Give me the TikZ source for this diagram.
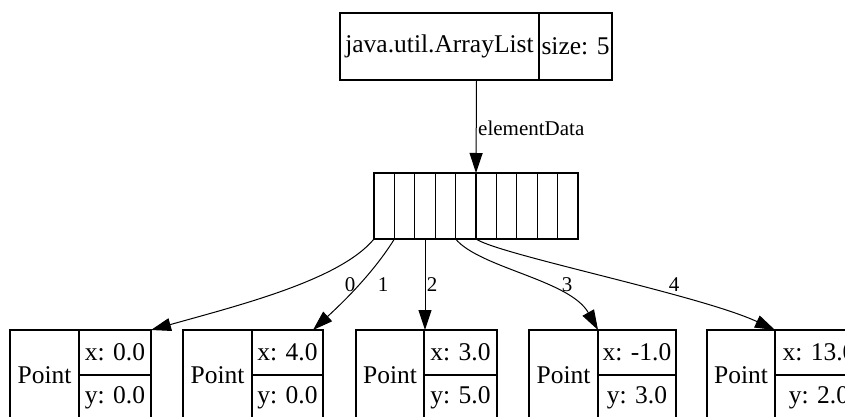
\documentclass[tikz,border=0pt]{standalone}
\usepackage{fontspec}
\setmainfont{Liberation Serif}
\usetikzlibrary{arrows.meta,calc}
\begin{document}
\begin{tikzpicture}[x=1pt,y=-1pt,
  cell/.style={draw,line width=1.1pt,inner sep=0pt,outer sep=0pt,font=\fontsize{25.5}{28}\selectfont},
  acell/.style={draw,line width=1.1pt,inner sep=0pt,outer sep=0pt,minimum width=20.4pt,minimum height=66pt},
  link/.style={line width=1.0pt,-{Triangle[length=20pt,width=13pt]}},
  elab/.style={font=\fontsize{21}{24}\selectfont,inner sep=0pt}]
\useasboundingbox (0,0) rectangle (845,417);
\clip (0,0) rectangle (845,417);
% ArrayList record
\node[cell,minimum width=199pt,minimum height=67pt] (al) at (439.5,46.5) {java.util.ArrayList};
\node[cell,minimum width=73pt,minimum height=67pt] (sz) at (575.5,46.5) {size: 5};
% array cells
\foreach \i in {0,...,9} {
  \node[acell] (c\i) at ({384.2+20.4*\i},206) {};
}
% Point records
\node[cell,minimum width=69pt,minimum height=90pt] (p1) at (44.5,375) {Point};
\node[cell,minimum width=72pt,minimum height=45pt] (p1x) at (115,352.5) {x: 0.0};
\node[cell,minimum width=72pt,minimum height=45pt] (p1y) at (115,397.5) {y: 0.0};
\node[cell,minimum width=69pt,minimum height=90pt] (p2) at (217.5,375) {Point};
\node[cell,minimum width=71pt,minimum height=45pt] (p2x) at (287.5,352.5) {x: 4.0};
\node[cell,minimum width=71pt,minimum height=45pt] (p2y) at (287.5,397.5) {y: 0.0};
\node[cell,minimum width=68pt,minimum height=90pt] (p3) at (390,375) {Point};
\node[cell,minimum width=73pt,minimum height=45pt] (p3x) at (460.5,352.5) {x: 3.0};
\node[cell,minimum width=73pt,minimum height=45pt] (p3y) at (460.5,397.5) {y: 5.0};
\node[cell,minimum width=69pt,minimum height=90pt] (p4) at (563.5,375) {Point};
\node[cell,minimum width=78pt,minimum height=45pt] (p4x) at (637,352.5) {x: -1.0};
\node[cell,minimum width=78pt,minimum height=45pt] (p4y) at (637,397.5) {y: 3.0};
\node[cell,minimum width=68pt,minimum height=90pt] (p5) at (741,375) {Point};
\node[cell,minimum width=88pt,minimum height=45pt] (p5x) at (819,352.5) {x: 13.0};
\node[cell,minimum width=88pt,minimum height=45pt] (p5y) at (819,397.5) {y: 2.0};
% edges
\draw[link] ($(al.south)+(37,0)$) coordinate (s0) -- (c5.north west);
\node[elab,anchor=west] (lab) at (478,128) {elementData};
\draw[link] (c0.south west) .. controls (340,280) and (240,305) .. (p1x.north east);
\draw[link] (c1.south west) .. controls (372,275) and (340,305) .. ($(p2x.north east)+(-10,0)$);
\draw[link] (c2.south) -- (c2.south |- p3x.north);
\draw[link] (c4.south west) .. controls (480,268) and (570,280) .. (p4x.north west);
\draw[link] (c5.south west) .. controls (500,255) and (700,295) .. (p5x.north west);
\node[elab] (l0) at (350,285) {0};
\node[elab] (l1) at (383,285) {1};
\node[elab] (l2) at (432,285) {2};
\node[elab] (l3) at (567,285) {3};
\node[elab] (l4) at (674,285) {4};
\end{tikzpicture}
\end{document}
